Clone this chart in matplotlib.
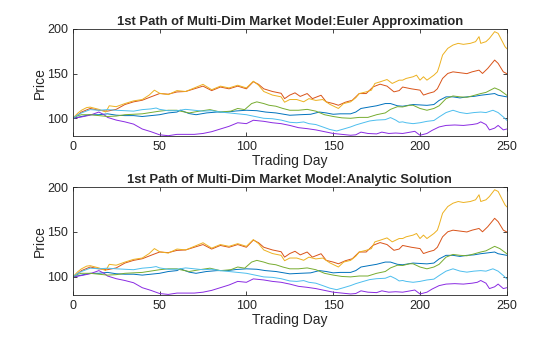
import matplotlib
matplotlib.use("Agg")
import matplotlib.pyplot as plt

plt.rcParams['font.family'] = ['Liberation Sans', 'DejaVu Sans']

# ---- data (trading day, price) ----
blue_days = [0, 5, 10, 15, 20, 25, 30, 35, 40, 45, 50, 55, 60, 62, 67, 71, 77, 83, 89, 94, 100, 106, 111, 117, 125,
             131, 137, 142, 146, 150, 154, 160, 163, 166, 171, 175, 180, 183, 187, 190, 196, 204, 208, 211, 215,
             219, 223, 227, 231, 235, 238, 243, 245, 250]
blue_vals = [100, 102, 104, 104, 105, 103.5, 103, 103, 102, 103, 104, 106, 107, 109, 105.3, 104, 106, 107, 107, 108.2,
             109, 108.5, 107, 106, 103.4, 104, 104.5, 107, 106, 104.5, 105, 105, 107, 111, 112.7, 114, 116.5, 116.5,
             114, 113.5, 115.4, 114.5, 115.4, 120, 124, 124, 122.8, 124, 124.5, 125.8, 126.5, 127.7, 125.8, 124]

orange_days = [0, 3, 5, 10, 15, 20, 25, 30, 35, 40, 45, 50, 55, 60, 65, 70, 75, 80, 85, 90, 95, 100, 104, 107, 110,
               115, 120, 122, 125, 128, 131, 135, 138, 143, 146, 150, 153, 157, 161, 165, 169, 173, 177, 181, 185,
               188, 190, 195, 200, 202, 205, 208, 210, 213, 216, 219, 223, 227, 230, 234, 236, 239, 243, 245, 248, 250]
orange_vals = [100, 104, 107, 111, 109, 108, 110, 115.4, 118.4, 120.2, 124, 127.7, 127, 129.5, 130, 133, 136, 131,
               135, 133, 136, 133, 141, 138, 133, 130, 128, 122, 126, 128.5, 124.5, 127.7, 122, 125.8, 118.4, 116.5,
               114.6, 118, 120.2, 127.7, 127.7, 135.2, 138.2, 136, 129.6, 131, 135, 133, 131.5, 126, 128, 129.6,
               133, 144.6, 150.2, 152, 151, 150, 152, 153.9, 150.2, 155.8, 165.2, 161.5, 152, 150]

yellow_days = [0, 3, 5, 8, 10, 15, 19, 21, 25, 30, 35, 40, 44, 47, 50, 55, 60, 65, 70, 75, 80, 85, 90, 95, 100, 104,
               107, 110, 115, 120, 122, 125, 129, 133, 136, 140, 144, 148, 153, 156, 160, 163, 165, 169, 172, 174,
               177, 181, 184, 188, 190, 192, 196, 198, 200, 202, 204, 208, 210, 211, 213, 216, 219, 222, 225, 229,
               232, 234, 235, 238, 240, 243, 245, 247, 249, 250]
yellow_vals = [100, 106, 109, 112, 112.5, 110, 107, 114, 113, 116.5, 119.5, 121, 126, 131.5, 128, 126.5, 131, 130,
               134, 138, 132, 136, 134, 137, 134, 141.5, 137, 130, 126, 124, 118, 121, 121, 118.5, 122, 120, 121,
               115.7, 111, 116.5, 118.4, 123, 127.7, 129.6, 131.5, 139, 140.8, 143.4, 139, 142.7, 142.7, 144.6,
               146.5, 148.3, 142.7, 146.5, 142.7, 148.3, 152, 157.7, 170.8, 178.3, 182, 183.9, 182.8, 183.9, 185.8,
               191.4, 183.9, 185.8, 189.5, 197, 195.1, 187.6, 180.1, 178]

purple_days = [0, 5, 10, 15, 18, 20, 25, 30, 35, 40, 45, 50, 55, 60, 65, 70, 75, 80, 85, 90, 95, 100, 104, 110, 115,
               120, 125, 130, 135, 140, 145, 150, 155, 160, 163, 166, 170, 175, 178, 182, 186, 190, 193, 197, 200,
               204, 207, 211, 215, 220, 225, 230, 233, 235, 238, 240, 243, 245, 248, 250]
purple_vals = [100, 101.5, 103.5, 107, 104, 101, 98, 96, 93.5, 88, 85, 81.5, 80.5, 82, 82, 82, 83, 85, 88, 91, 95,
               94, 97.8, 96.6, 95, 94, 92, 89.5, 88.4, 87, 85, 83, 82, 81, 81.5, 84.5, 83, 82.5, 84.5, 83, 83.5, 83,
               84, 85.4, 81, 83, 86.5, 90.3, 92, 92.5, 92, 93, 94, 96, 93, 87, 89, 92, 87, 88]

green_days = [0, 3, 5, 10, 15, 20, 25, 30, 35, 40, 45, 50, 55, 60, 62, 67, 73, 79, 85, 91, 95, 99, 103, 106, 110,
              113, 117, 121, 125, 130, 135, 140, 145, 150, 155, 160, 165, 170, 175, 180, 183, 187, 190, 194, 196,
              200, 204, 208, 211, 215, 219, 223, 227, 230, 235, 238, 243, 246, 250]
green_vals = [100, 103, 104, 104, 103, 102, 102.5, 104, 104.5, 105, 106.5, 108, 109, 109, 108, 106, 108, 109.7,
              107, 108, 111, 109.7, 116.5, 118.4, 116.5, 114.6, 113.5, 111, 109, 109, 110, 108, 104, 102, 100.5,
              100, 101, 101, 104, 106, 110, 113, 112.7, 114.6, 114.6, 111, 109, 111, 114, 122, 125, 124, 123.5,
              125, 127.7, 129, 134, 131.5, 125.8]

cyan_days = [0, 3, 5, 10, 15, 20, 25, 30, 35, 40, 45, 48, 50, 55, 60, 65, 70, 75, 80, 85, 90, 95, 100, 105, 110,
             115, 120, 125, 129, 133, 136, 140, 144, 148, 152, 156, 160, 163, 167, 171, 175, 180, 183, 186, 188,
             190, 192, 196, 200, 204, 208, 211, 215, 219, 223, 227, 231, 235, 238, 242, 245, 248, 250]
cyan_vals = [100, 104, 106, 109.7, 109, 109.7, 109, 108.5, 108, 109.7, 110.5, 111.5, 110, 108.5, 108.5, 110, 109,
             108, 108.5, 107, 106, 105, 104, 102, 100, 99.5, 98, 95.5, 95, 95.9, 94, 93, 90.3, 87.5, 85.8, 88,
             90.3, 92.5, 94.8, 97, 98, 98.5, 100.8, 98, 95.5, 96, 95, 94, 95, 96.6, 97.5, 101.5, 106.4, 109,
             106.5, 105.3, 106.4, 107, 106.4, 109, 106.4, 101.5, 97.8]

series = [
    (blue_days, blue_vals, '#0072BD'),
    (orange_days, orange_vals, '#D95319'),
    (yellow_days, yellow_vals, '#EDB120'),
    (purple_days, purple_vals, '#8A2BE2'),
    (green_days, green_vals, '#77AC30'),
    (cyan_days, cyan_vals, '#4DBEEE'),
]

titles = ['1st Path of Multi-Dim Market Model:Euler Approximation',
          '1st Path of Multi-Dim Market Model:Analytic Solution']
x_ticks = [0, 50, 100, 150, 200, 250]
y_ticks = [100, 150, 200]

fig = plt.figure(figsize=(5.6, 3.37), dpi=100)
fig.patch.set_facecolor('white')
positions = [[0.130, 0.596, 0.775, 0.318], [0.130, 0.125, 0.775, 0.320]]

for pos, title in zip(positions, titles):
    ax = fig.add_axes(pos)
    for d, v, c in series:
        ax.plot(d, v, color=c, lw=0.7)
    ax.set_xlim(0, 250)
    ax.set_ylim(80, 200)
    ax.set_xticks(x_ticks)
    ax.set_yticks(y_ticks)
    ax.tick_params(direction='in', top=True, right=True, length=3, width=0.6,
                   labelsize=9, colors='#262626')
    for s in ax.spines.values():
        s.set_linewidth(0.6)
        s.set_color('#262626')
    ax.set_xlabel('Trading Day', fontsize=10, color='#262626', labelpad=1)
    ax.set_ylabel('Price', fontsize=10, color='#262626', labelpad=0)
    ax.set_title(title, fontsize=9.4, fontweight='bold', color='#262626', pad=3)

fig.savefig('out.png', dpi=100)
